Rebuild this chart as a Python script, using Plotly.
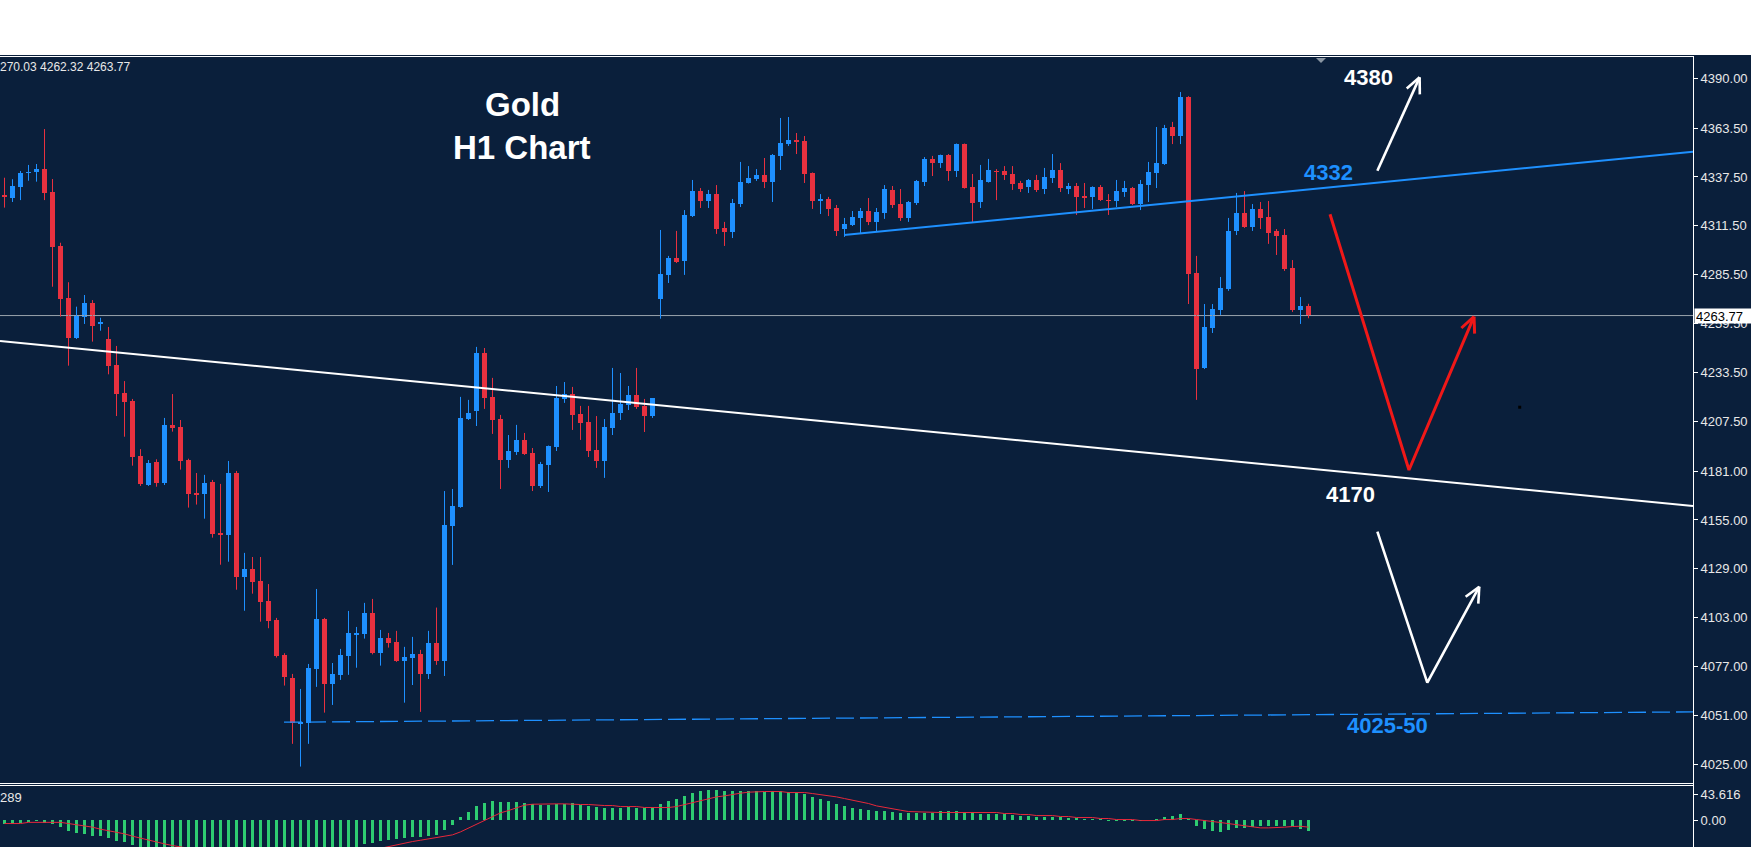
import math
import plotly.graph_objects as go

# ---------------- data ----------------
opens = [4327.7, 4326.5, 4332.3, 4339.5, 4340.0, 4341.6, 4329.5, 4300.8, 4273.3, 4251.8,
         4263.2, 4270.5, 4259.1, 4251.3, 4237.5, 4222.6, 4218.3, 4189.1, 4173.6, 4185.9,
         4174.7, 4205.6, 4204.5, 4186.9, 4169.4, 4169.0, 4175.2, 4148.1, 4147.2, 4180.0,
         4124.9, 4128.9, 4122.6, 4111.9, 4101.8, 4083.2, 4070.9, 4046.6, 4047.2, 4075.7,
         4102.3, 4067.9, 4072.6, 4082.8, 4094.0, 4094.5, 4105.5, 4084.4, 4092.2, 4090.1,
         4080.2, 4081.8, 4083.7, 4073.1, 4089.6, 4080.0, 4151.8, 4161.9, 4208.6, 4213.0,
         4243.9, 4220.5, 4208.7, 4186.9, 4191.2, 4197.6, 4190.7, 4173.1, 4184.3, 4193.9,
         4219.4, 4222.0, 4211.4, 4207.1, 4192.2, 4186.4, 4203.9, 4211.9, 4216.2, 4221.5,
         4215.7, 4210.3, 4272.6, 4285.4, 4294.4, 4292.8, 4316.7, 4330.0, 4324.7, 4328.4,
         4310.4, 4308.2, 4323.1, 4334.3, 4336.4, 4338.6, 4334.8, 4348.7, 4355.1, 4357.2,
         4356.6, 4339.6, 4324.7, 4325.8, 4321.0, 4309.8, 4311.9, 4315.7, 4319.4, 4313.6,
         4318.3, 4330.6, 4323.1, 4315.7, 4323.7, 4334.8, 4347.1, 4344.9, 4349.2, 4340.7,
         4355.0, 4332.2, 4324.2, 4334.8, 4340.7, 4340.7, 4339.1, 4334.3, 4332.2, 4335.9,
         4331.1, 4336.9, 4341.2, 4331.1, 4332.7, 4327.4, 4326.9, 4332.2, 4325.2, 4324.7,
         4329.5, 4331.6, 4323.1, 4333.2, 4339.6, 4344.4, 4364.1, 4359.3, 4380.0, 4286.4,
         4235.9, 4257.2, 4266.7, 4277.9, 4308.8, 4318.3, 4310.9, 4320.5, 4316.2, 4308.8,
         4306.6, 4289.1, 4266.7, 4268.9]
highs = [4337.1, 4336.3, 4340.7, 4343.9, 4344.4, 4363.0, 4336.4, 4302.5, 4281.5, 4268.5,
         4274.7, 4272.0, 4262.6, 4257.7, 4247.6, 4228.9, 4219.4, 4192.7, 4186.9, 4187.3,
         4209.3, 4222.0, 4208.2, 4187.6, 4180.0, 4179.0, 4176.3, 4174.2, 4186.4, 4181.1,
         4137.5, 4135.3, 4135.3, 4120.9, 4102.9, 4084.1, 4073.1, 4065.1, 4078.4, 4118.3,
         4102.9, 4078.9, 4086.4, 4106.6, 4098.1, 4110.9, 4113.0, 4096.5, 4094.9, 4096.0,
         4087.5, 4092.8, 4085.9, 4096.0, 4108.4, 4170.4, 4171.5, 4220.5, 4218.9, 4247.1,
         4246.5, 4230.6, 4210.9, 4200.2, 4205.6, 4201.3, 4193.3, 4185.9, 4194.6, 4226.3,
         4228.4, 4225.8, 4215.7, 4215.7, 4210.3, 4208.7, 4235.9, 4233.2, 4226.3, 4235.9,
         4219.4, 4219.9, 4309.3, 4295.5, 4308.8, 4319.9, 4335.9, 4331.6, 4330.6, 4333.2,
         4313.6, 4325.8, 4345.5, 4343.3, 4341.7, 4347.6, 4349.7, 4368.9, 4369.4, 4360.9,
         4359.3, 4339.9, 4328.4, 4326.9, 4322.6, 4315.7, 4319.4, 4321.0, 4326.3, 4321.0,
         4333.2, 4332.7, 4331.1, 4324.7, 4335.9, 4348.1, 4348.7, 4349.4, 4349.7, 4355.3,
         4355.3, 4339.1, 4343.9, 4347.1, 4341.7, 4343.3, 4343.3, 4335.4, 4336.4, 4338.6,
         4342.3, 4349.7, 4344.9, 4334.3, 4334.3, 4334.3, 4332.5, 4333.2, 4328.4, 4335.9,
         4335.4, 4332.2, 4335.9, 4345.5, 4364.1, 4365.2, 4366.8, 4382.7, 4380.5, 4295.5,
         4269.9, 4269.9, 4284.3, 4315.7, 4329.0, 4330.0, 4323.1, 4324.2, 4324.7, 4309.8,
         4309.8, 4293.3, 4273.6, 4270.03]
lows = [4321.2, 4324.2, 4325.2, 4335.5, 4335.0, 4325.2, 4279.1, 4263.2, 4237.1, 4251.3,
        4259.3, 4249.9, 4255.7, 4232.5, 4210.3, 4199.3, 4183.9, 4173.1, 4173.1, 4172.7,
        4173.6, 4202.0, 4181.8, 4161.6, 4163.2, 4155.7, 4145.6, 4131.2, 4132.8, 4117.9,
        4106.7, 4115.8, 4100.9, 4097.4, 4081.8, 4066.9, 4035.9, 4023.8, 4035.9, 4066.2,
        4052.5, 4056.6, 4069.9, 4072.6, 4076.4, 4091.9, 4083.5, 4077.5, 4087.1, 4079.5,
        4057.8, 4067.2, 4052.9, 4070.4, 4077.9, 4072.0, 4131.1, 4161.5, 4208.2, 4205.0,
        4214.1, 4200.8, 4171.5, 4182.7, 4189.6, 4189.6, 4170.4, 4172.0, 4169.9, 4191.7,
        4217.3, 4202.9, 4197.6, 4188.5, 4182.7, 4177.4, 4200.2, 4208.2, 4213.5, 4214.1,
        4201.8, 4209.3, 4262.1, 4281.1, 4291.7, 4285.4, 4316.2, 4321.0, 4321.0, 4307.2,
        4300.8, 4305.0, 4321.5, 4334.0, 4335.4, 4331.6, 4324.2, 4341.2, 4354.0, 4349.7,
        4334.3, 4320.5, 4317.8, 4316.7, 4306.1, 4305.6, 4311.4, 4307.2, 4311.9, 4308.2,
        4315.2, 4321.0, 4314.1, 4313.6, 4322.6, 4332.7, 4338.0, 4342.3, 4335.4, 4337.5,
        4331.3, 4313.6, 4321.0, 4334.5, 4325.2, 4335.9, 4330.6, 4329.5, 4329.0, 4329.5,
        4328.4, 4334.3, 4329.5, 4328.4, 4317.3, 4321.0, 4320.5, 4324.7, 4317.3, 4321.5,
        4326.9, 4322.6, 4319.9, 4324.2, 4331.6, 4343.9, 4355.0, 4355.0, 4269.9, 4218.9,
        4235.3, 4254.5, 4264.1, 4276.9, 4306.6, 4310.4, 4308.8, 4309.8, 4301.9, 4296.0,
        4287.5, 4265.7, 4259.3, 4262.32]
closes = [4326.6, 4332.7, 4339.8, 4340.0, 4341.8, 4329.1, 4300.4, 4272.8, 4251.8, 4263.9,
          4270.5, 4258.4, 4260.5, 4237.1, 4222.2, 4217.9, 4188.7, 4174.2, 4185.3, 4174.7,
          4205.6, 4204.1, 4186.6, 4169.0, 4168.5, 4174.7, 4147.7, 4147.2, 4180.0, 4124.9,
          4128.9, 4122.2, 4111.6, 4101.4, 4082.8, 4071.6, 4046.9, 4047.6, 4076.3, 4102.3,
          4067.9, 4073.1, 4083.2, 4094.9, 4094.9, 4105.5, 4084.4, 4092.2, 4089.7, 4080.2,
          4082.1, 4083.7, 4073.1, 4089.6, 4080.0, 4152.4, 4162.5, 4209.3, 4211.9, 4243.9,
          4219.9, 4208.2, 4186.9, 4191.7, 4197.6, 4190.1, 4173.1, 4184.8, 4194.4, 4219.9,
          4222.0, 4210.9, 4206.6, 4191.7, 4186.4, 4204.5, 4211.9, 4216.7, 4221.5, 4215.1,
          4210.3, 4219.9, 4285.9, 4294.4, 4292.3, 4317.3, 4330.0, 4324.7, 4328.4, 4309.8,
          4308.2, 4323.7, 4334.8, 4336.9, 4338.6, 4334.8, 4349.2, 4355.6, 4357.2, 4356.1,
          4339.1, 4324.7, 4325.8, 4320.5, 4308.8, 4312.5, 4316.2, 4319.4, 4313.6, 4318.9,
          4331.1, 4322.6, 4315.7, 4324.2, 4335.4, 4347.1, 4344.9, 4349.2, 4340.7, 4355.0,
          4331.6, 4323.7, 4335.9, 4341.2, 4340.2, 4338.6, 4333.8, 4331.1, 4335.9, 4330.6,
          4337.5, 4341.2, 4331.6, 4332.7, 4326.9, 4326.3, 4332.2, 4325.2, 4324.7, 4330.0,
          4331.6, 4323.1, 4333.8, 4340.2, 4344.9, 4363.6, 4359.3, 4380.0, 4285.9, 4235.3,
          4257.7, 4267.3, 4278.5, 4308.8, 4318.3, 4310.9, 4320.5, 4315.7, 4307.7, 4306.1,
          4288.5, 4266.7, 4268.9, 4263.77]

macd_hist = [-6.2, -5.6, -5.0, -3.4, -1.7, -3.9, -6.2, -11.7, -17.9, -21.2,
             -23.5, -26.8, -26.8, -29.6, -35.2, -36.9, -41.9, -46, -49, -51,
             -52, -53, -54, -55, -56, -57, -58, -59, -58, -60,
             -62, -63, -64, -66, -68, -70, -73, -72, -68, -63,
             -60, -56, -52, -49, -46, -39.1, -38.0, -34.7, -33.0, -31.3,
             -29.6, -28.0, -28.0, -26.3, -24.6, -16.8, -7.8, 5.0, 13.4, 23.5,
             28.5, 31.9, 30.2, 30.2, 30.2, 28.5, 26.8, 25.2, 25.2, 26.8,
             26.8, 28.5, 25.2, 23.5, 21.8, 20.1, 20.1, 20.1, 21.8, 20.1,
             20.1, 20.1, 26.8, 31.9, 35.2, 40.3, 45.3, 48.7, 50.3, 50.3,
             48.7, 48.7, 48.7, 48.7, 48.7, 47.0, 48.7, 48.7, 47.0, 45.3,
             43.6, 38.6, 35.2, 31.9, 26.8, 23.5, 20.1, 18.5, 16.8, 15.1,
             15.1, 13.4, 11.7, 11.7, 11.7, 11.7, 11.7, 15.1, 15.1, 15.1,
             13.4, 11.7, 10.1, 10.1, 10.1, 10.1, 8.4, 6.7, 6.7, 5.0,
             5.0, 5.0, 5.0, 3.4, 3.4, 1.7, 1.7, 1.7, -1.7, -1.7,
             -1.7, -1.7, -0.8, 0.8, 1.7, 5.0, 6.7, 10.1, 1.7, -10.1,
             -14.5, -17.3, -19.0, -16.2, -13.4, -12.3, -10.6, -8.9, -8.9, -8.9,
             -8.9, -10.1, -15.1, -17.3]
macd_signal = [-5.6, -5.6, -5.6, -3.6, -3.6, -3.6, -3.6, -3.6, -5.6, -7.3,
               -9.5, -11.7, -15.1, -17.3, -20.7, -22.9, -26.8, -30.2, -34.1, -36.3,
               -39.7, -42.5, -44.2, -47, -50, -52, -54, -56, -57, -58,
               -59, -60, -61, -62, -63, -64, -65, -66, -66, -65,
               -64, -62, -60, -58, -55, -53, -50, -47, -43.6, -40.8,
               -38.0, -35.8, -33.6, -31.3, -28.5, -27.4, -24.6, -19.6, -13.4, -6.7,
               -0.6, 5.6, 12.3, 16.2, 20.1, 25.2, 26.8, 27.4, 27.4, 27.4,
               27.4, 26.3, 26.3, 26.3, 25.2, 24.6, 24.6, 22.9, 22.9, 22.9,
               21.3, 21.3, 21.3, 21.3, 22.9, 26.3, 29.1, 32.4, 35.8, 39.1,
               40.8, 43.6, 45.3, 47.0, 48.1, 48.1, 48.1, 48.1, 46.4, 46.4,
               46.4, 44.7, 43.1, 41.4, 39.1, 36.3, 33.6, 30.8, 28.0, 24.0,
               21.3, 19.0, 16.8, 14.5, 14.0, 12.9, 12.9, 12.9, 12.9, 12.9,
               12.9, 12.9, 12.9, 12.9, 12.9, 11.2, 11.2, 9.5, 9.5, 7.8,
               7.8, 7.8, 6.2, 6.2, 4.5, 4.5, 4.5, 2.8, 2.8, 1.1,
               1.1, 1.1, -0.6, -0.6, -0.6, 1.1, 1.1, 2.8, 2.8, 1.1,
               -1.1, -2.2, -3.9, -5.6, -7.3, -8.9, -11.7, -12.9, -12.9, -12.9,
               -11.7, -10.6, -10.1, -11.7]

price_ticks = [4390.00, 4363.50, 4337.50, 4311.50, 4285.50, 4259.50, 4233.50, 4207.50,
               4181.00, 4155.00, 4129.00, 4103.00, 4077.00, 4051.00, 4025.00]
macd_ticks = [43.616, 0.00]
macd_tick_text = ["43.616", "0.00"]

# drawn objects (bar index, price)
white_trend_x = [-0.5625, 211.0625]
white_trend_y = [4250.2, 4162.5]
blue_trend_x = [104.94, 211.0625]
blue_trend_y = [4306.6, 4350.96]
support_x = [34.94, 211.0625]
support_y = [4047.4, 4052.9]
red_path_x = [165.69, 175.56, 183.69]
red_path_y = [4317.7, 4181.6, 4263.2]
white_low_path_x = [171.61, 177.85, 184.35]
white_low_path_y = [4148.8, 4068.5, 4119.5]
white_up_path_x = [171.61, 176.89]
white_up_path_y = [4340.8, 4390.5]

label_text = ["4380", "4332", "4170", "4025-50"]
label_x = [170.44, 165.54, 168.21, 172.84]
label_y = [4390.4, 4339.9, 4168.7, 4045.5]
label_col = ["#ffffff", "#1e90ff", "#ffffff", "#1e90ff"]

title_lines = ["Gold", "H1 Chart"]
title_x = [64.69, 64.64]
title_y = [4375.8, 4353.2]

header_text = "270.03 4262.32 4263.77"
ind_text = "289"
dot_x = [189.4]
dot_y = [4215.0]

# ---------------- layout geometry ----------------
W, H = 1751, 847
PLOT_W = 1693
MAIN_TOP, MAIN_BOT = 56, 783
IND_TOP = 786
XR = [-0.5625, 211.0625]
PX_PER_PT = 1.8795
YR = [4390 - (MAIN_BOT - 78.3) / PX_PER_PT, 4390 + (78.3 - MAIN_TOP) / PX_PER_PT]
Y2_ZERO_PX, Y2_UNIT = 820.2, 1.6775
Y2R = [-(H - Y2_ZERO_PX) * Y2_UNIT, (Y2_ZERO_PX - IND_TOP) * Y2_UNIT]

NAVY = "#0a1f3b"
BULL = "#1e90ff"
BEAR = "#e8313f"
GREEN = "#2ecc71"
SIG = "#e8283a"


def fx(x):
    return x / W


def fy(y):
    return 1 - y / H


def to_px(i, p):
    x = (i - XR[0]) / (XR[1] - XR[0]) * PLOT_W
    y = MAIN_TOP + (YR[1] - p) / (YR[1] - YR[0]) * (MAIN_BOT - MAIN_TOP)
    return x, y


def from_px(x, y):
    i = XR[0] + x / PLOT_W * (XR[1] - XR[0])
    p = YR[1] - (y - MAIN_TOP) / (MAIN_BOT - MAIN_TOP) * (YR[1] - YR[0])
    return i, p


def barbs(xs, ys, length=17, ang=25):
    tx, ty = to_px(xs[-1], ys[-1])
    bx, by = to_px(xs[-2], ys[-2])
    base = math.atan2(by - ty, bx - tx)
    out_x, out_y = [], []
    for s in (-1, 1):
        a = base + s * math.radians(ang)
        ex, ey = tx + length * math.cos(a), ty + length * math.sin(a)
        i, p = from_px(ex, ey)
        out_x += [xs[-1], i, None]
        out_y += [ys[-1], p, None]
    return out_x, out_y


idx = list(range(len(closes)))
min_h = (YR[1] - YR[0]) / (MAIN_BOT - MAIN_TOP)

fig = go.Figure()

# current bid line
fig.add_trace(go.Scatter(x=XR, y=[closes[-1]] * 2, mode="lines",
                         line=dict(color="#9aa3ad", width=1), hoverinfo="skip"))

for color, cond in ((BULL, lambda o, c: c >= o), (BEAR, lambda o, c: c < o)):
    wx, wy, bx, bb, bh = [], [], [], [], []
    for i in idx:
        o, h, l, c = opens[i], highs[i], lows[i], closes[i]
        if not cond(o, c):
            continue
        wx += [i, i, None]
        wy += [l, h, None]
        bx.append(i)
        bb.append(min(o, c))
        bh.append(max(abs(c - o), min_h))
    fig.add_trace(go.Scatter(x=wx, y=wy, mode="lines", line=dict(color=color, width=1),
                             hoverinfo="skip"))
    fig.add_trace(go.Bar(x=bx, y=bh, base=bb, width=0.625,
                         marker=dict(color=color, line=dict(width=0)), hoverinfo="skip"))

# trend lines
fig.add_trace(go.Scatter(x=white_trend_x, y=white_trend_y, mode="lines",
                         line=dict(color="#ffffff", width=2), hoverinfo="skip"))
fig.add_trace(go.Scatter(x=blue_trend_x, y=blue_trend_y, mode="lines",
                         line=dict(color=BULL, width=2), hoverinfo="skip"))
fig.add_trace(go.Scatter(x=support_x, y=support_y, mode="lines",
                         line=dict(color=BULL, width=1.3, dash="18px,6px"), hoverinfo="skip"))

# hand drawn arrows
for xs, ys, col, wd in ((red_path_x, red_path_y, "#f01818", 3),
                        (white_low_path_x, white_low_path_y, "#ffffff", 2.6),
                        (white_up_path_x, white_up_path_y, "#ffffff", 2.6)):
    fig.add_trace(go.Scatter(x=xs, y=ys, mode="lines", line=dict(color=col, width=wd),
                             hoverinfo="skip"))
    hx, hy = barbs(xs, ys)
    fig.add_trace(go.Scatter(x=hx, y=hy, mode="lines", line=dict(color=col, width=wd),
                             hoverinfo="skip"))

fig.add_trace(go.Scatter(x=dot_x, y=dot_y, mode="markers",
                         marker=dict(color="black", size=3, symbol="square"), hoverinfo="skip"))

# MACD panel
fig.add_trace(go.Bar(x=idx, y=macd_hist, width=0.375, yaxis="y2",
                     marker=dict(color=GREEN, line=dict(width=0)), hoverinfo="skip"))
fig.add_trace(go.Scatter(x=idx, y=macd_signal, yaxis="y2", mode="lines",
                         line=dict(color=SIG, width=1), hoverinfo="skip"))

tickfont = dict(family="Liberation Sans, Arial, sans-serif", size=13, color="#e8e8e8")

annotations = []
for t, x, y, c in zip(label_text, label_x, label_y, label_col):
    annotations.append(dict(x=x, y=y, xref="x", yref="y", text="<b>%s</b>" % t,
                            showarrow=False, xanchor="center", yanchor="middle",
                            font=dict(family="Liberation Sans, Arial", size=22, color=c)))
for t, x, y in zip(title_lines, title_x, title_y):
    annotations.append(dict(x=x, y=y, xref="x", yref="y", text="<b>%s</b>" % t,
                            showarrow=False, xanchor="center", yanchor="middle",
                            font=dict(family="Liberation Sans, Arial", size=33, color="#ffffff")))
annotations.append(dict(x=fx(-2), y=fy(67), xref="paper", yref="paper", text=header_text,
                        showarrow=False, xanchor="left", yanchor="middle",
                        font=dict(family="Liberation Sans, Arial", size=12, color="#e8e8e8")))
annotations.append(dict(x=fx(-2), y=fy(797), xref="paper", yref="paper", text=ind_text,
                        showarrow=False, xanchor="left", yanchor="middle",
                        font=dict(family="Liberation Sans, Arial", size=13, color="#e8e8e8")))
annotations.append(dict(x=fx(PLOT_W + 1), y=closes[-1], xref="paper", yref="y",
                        text="%.2f" % closes[-1], showarrow=False, xanchor="left",
                        yanchor="middle", align="left", bgcolor="#ffffff", borderpad=1,
                        width=55, height=12,
                        font=dict(family="Liberation Sans, Arial", size=13, color="#000000")))

shapes = [
    dict(type="rect", xref="paper", yref="paper", x0=0, x1=1, y0=fy(55), y1=1,
         fillcolor="#ffffff", line=dict(width=0), layer="above"),
    dict(type="line", xref="paper", yref="paper", x0=0, x1=fx(PLOT_W), y0=fy(56.5), y1=fy(56.5),
         line=dict(color="#ffffff", width=1), layer="above"),
    dict(type="line", xref="paper", yref="paper", x0=fx(PLOT_W + 0.5), x1=fx(PLOT_W + 0.5),
         y0=fy(56), y1=0, line=dict(color="#ffffff", width=1), layer="above"),
    dict(type="line", xref="paper", yref="paper", x0=0, x1=fx(PLOT_W), y0=fy(783.5), y1=fy(783.5),
         line=dict(color="#ffffff", width=1), layer="above"),
    dict(type="line", xref="paper", yref="paper", x0=0, x1=fx(PLOT_W), y0=fy(785.5), y1=fy(785.5),
         line=dict(color="#ffffff", width=1), layer="above"),
    dict(type="path", xref="paper", yref="paper",
         path="M %f %f L %f %f L %f %f Z" % (fx(1316), fy(58), fx(1326), fy(58), fx(1321), fy(63)),
         fillcolor="#8a96a3", line=dict(width=0), layer="above"),
]

fig.update_layout(
    width=W, height=H, autosize=False,
    margin=dict(l=0, r=0, t=0, b=0, pad=0),
    paper_bgcolor=NAVY, plot_bgcolor=NAVY,
    showlegend=False, barmode="overlay", bargap=0,
    xaxis=dict(domain=[0, fx(PLOT_W)], range=XR, visible=False, fixedrange=True),
    yaxis=dict(domain=[fy(MAIN_BOT), fy(MAIN_TOP)], range=YR, side="right", anchor="x",
               tickmode="array", tickvals=price_ticks,
               ticktext=["%.2f" % v for v in price_ticks],
               ticks="outside", ticklen=4, tickwidth=1, tickcolor="#ffffff",
               tickfont=tickfont, showgrid=False, zeroline=False, showline=False,
               fixedrange=True),
    yaxis2=dict(domain=[0, fy(IND_TOP)], range=Y2R, side="right", anchor="x",
                tickmode="array", tickvals=macd_ticks, ticktext=macd_tick_text,
                ticks="outside", ticklen=4, tickwidth=1, tickcolor="#ffffff",
                tickfont=tickfont, showgrid=False, zeroline=False, showline=False,
                fixedrange=True),
    annotations=annotations,
    shapes=shapes,
    hovermode=False,
)

fig.write_html("out.html", config={"displayModeBar": False, "staticPlot": True})
